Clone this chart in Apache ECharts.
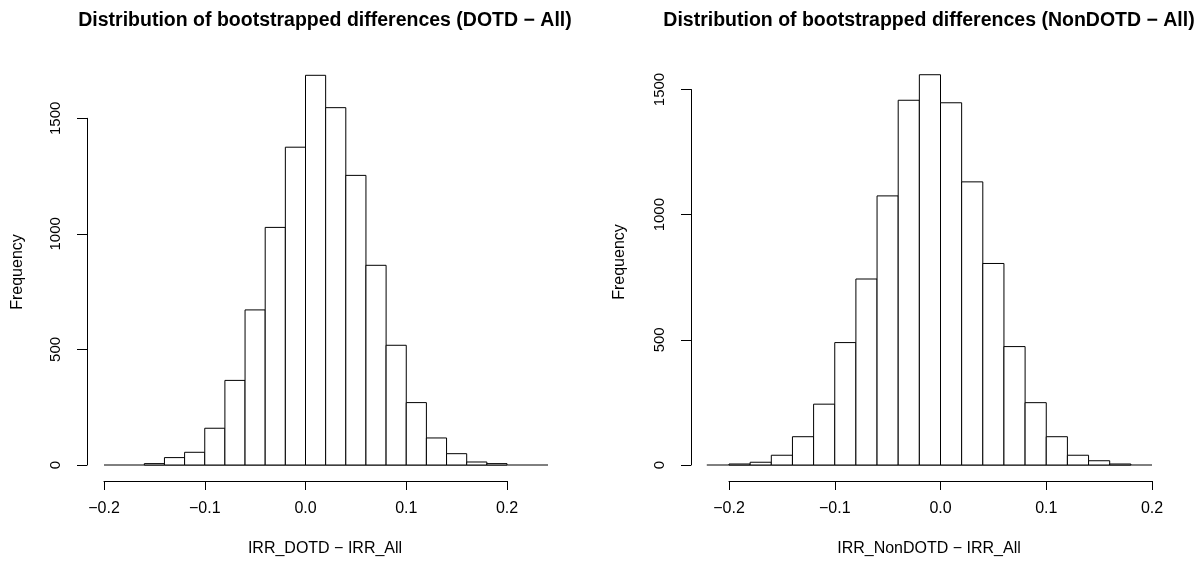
<!DOCTYPE html>
<html>
<head>
<meta charset="utf-8">
<script src="https://cdn.jsdelivr.net/npm/echarts@6/dist/echarts.min.js"></script>
<style>
  html, body { margin: 0; padding: 0; background: #fff; }
  #chart { width: 1198px; height: 561px; }
</style>
</head>
<body>
<div id="chart"></div>
<script>
// 直方图数据
const leftBreaks = [-0.16, -0.14, -0.12, -0.10, -0.08, -0.06, -0.04, -0.02, 0.00, 0.02,
                    0.04, 0.06, 0.08, 0.10, 0.12, 0.14, 0.16, 0.18, 0.20];
const leftCounts = [6, 32, 55, 159, 366, 671, 1028, 1375, 1686, 1546,
                    1253, 864, 518, 270, 117, 49, 13, 6];

const rightBreaks = [-0.20, -0.18, -0.16, -0.14, -0.12, -0.10, -0.08, -0.06, -0.04, -0.02,
                     0.00, 0.02, 0.04, 0.06, 0.08, 0.10, 0.12, 0.14, 0.16, 0.18];
const rightCounts = [4, 11, 39, 113, 243, 489, 743, 1075, 1457, 1559,
                     1447, 1131, 805, 473, 249, 113, 39, 17, 4];

// 底线的范围
const leftBase = [-0.2, 0.2407];
const rightBase = [-0.221, 0.2];

const FONT = '"Liberation Sans", Arial, sans-serif';

function toBins(breaks, counts) {
    return counts.map((c, i) => [breaks[i], breaks[i + 1], c]);
}

function renderBin(params, api) {
    const p0 = api.coord([api.value(0), api.value(2)]);
    const p1 = api.coord([api.value(1), 0]);
    return {
        type: 'rect',
        shape: { x: p0[0], y: p0[1], width: p1[0] - p0[0], height: p1[1] - p0[1] },
        style: { fill: '#fff', stroke: '#000', lineWidth: 1 }
    };
}

// 底线
function renderBase(params, api) {
    const p0 = api.coord([api.value(0), 0]);
    const p1 = api.coord([api.value(1), 0]);
    return {
        type: 'line',
        shape: { x1: p0[0], y1: p0[1], x2: p1[0], y2: p1[1] },
        style: { stroke: '#000', lineWidth: 1 }
    };
}

function fmtX(v) {
    return v.toFixed(1).replace('-', '\u2212');
}

function xAxisOf(gridIndex) {
    return {
        type: 'value',
        gridIndex: gridIndex,
        min: -0.2,
        max: 0.2,
        interval: 0.1,
        offset: 16,
        splitLine: { show: false },
        axisLine: { show: true, onZero: false, lineStyle: { color: '#000', width: 1 } },
        axisTick: { show: true, length: 9, lineStyle: { color: '#000', width: 1 } },
        axisLabel: { margin: 20, color: '#000', fontSize: 16, fontFamily: FONT, formatter: fmtX }
    };
}

function yAxisOf(gridIndex, offset) {
    return {
        type: 'value',
        gridIndex: gridIndex,
        min: 0,
        max: 1500,
        interval: 500,
        offset: offset,
        splitLine: { show: false },
        axisLine: { show: true, onZero: false, lineStyle: { color: '#000', width: 1 } },
        axisTick: { show: true, length: 10, lineStyle: { color: '#000', width: 1 } },
        axisLabel: {
            rotate: 90, margin: 24, color: '#000', fontSize: 15, fontFamily: FONT,
            align: 'center', verticalAlign: 'bottom',
            formatter: v => String(v)
        }
    };
}

function textEl(text, x, y, font, rotation) {
    return {
        type: 'text',
        x: x,
        y: y,
        rotation: rotation || 0,
        style: {
            text: text,
            align: 'center',
            verticalAlign: 'middle',
            fill: '#000',
            font: font
        }
    };
}

const chart = echarts.init(document.getElementById('chart'));

const option = {
    animation: false,
    backgroundColor: '#fff',
    grid: [
        { left: 104, width: 403, top: 118.3, height: 346.7 },
        { left: 729, width: 423, top: 89.5, height: 375.5 }
    ],
    xAxis: [xAxisOf(0), xAxisOf(1)],
    yAxis: [yAxisOf(0, 17), yAxisOf(1, 38)],
    graphic: [
        textEl('Distribution of bootstrapped differences (DOTD \u2212 All)', 325, 21, 'bold 19.5px ' + FONT),
        textEl('Distribution of bootstrapped differences (NonDOTD \u2212 All)', 929, 21, 'bold 19.5px ' + FONT),
        textEl('IRR_DOTD \u2212 IRR_All', 325, 549, '16px ' + FONT),
        textEl('IRR_NonDOTD \u2212 IRR_All', 929, 549, '16px ' + FONT),
        textEl('Frequency', 18, 272, '16px ' + FONT, Math.PI / 2),
        textEl('Frequency', 620, 262, '16px ' + FONT, Math.PI / 2)
    ],
    series: [
        {
            type: 'custom',
            xAxisIndex: 0,
            yAxisIndex: 0,
            clip: false,
            renderItem: renderBase,
            data: [leftBase]
        },
        {
            type: 'custom',
            xAxisIndex: 1,
            yAxisIndex: 1,
            clip: false,
            renderItem: renderBase,
            data: [rightBase]
        },
        {
            type: 'custom',
            xAxisIndex: 0,
            yAxisIndex: 0,
            clip: false,
            renderItem: renderBin,
            data: toBins(leftBreaks, leftCounts)
        },
        {
            type: 'custom',
            xAxisIndex: 1,
            yAxisIndex: 1,
            clip: false,
            renderItem: renderBin,
            data: toBins(rightBreaks, rightCounts)
        }
    ]
};

chart.setOption(option);
</script>
</body>
</html>
